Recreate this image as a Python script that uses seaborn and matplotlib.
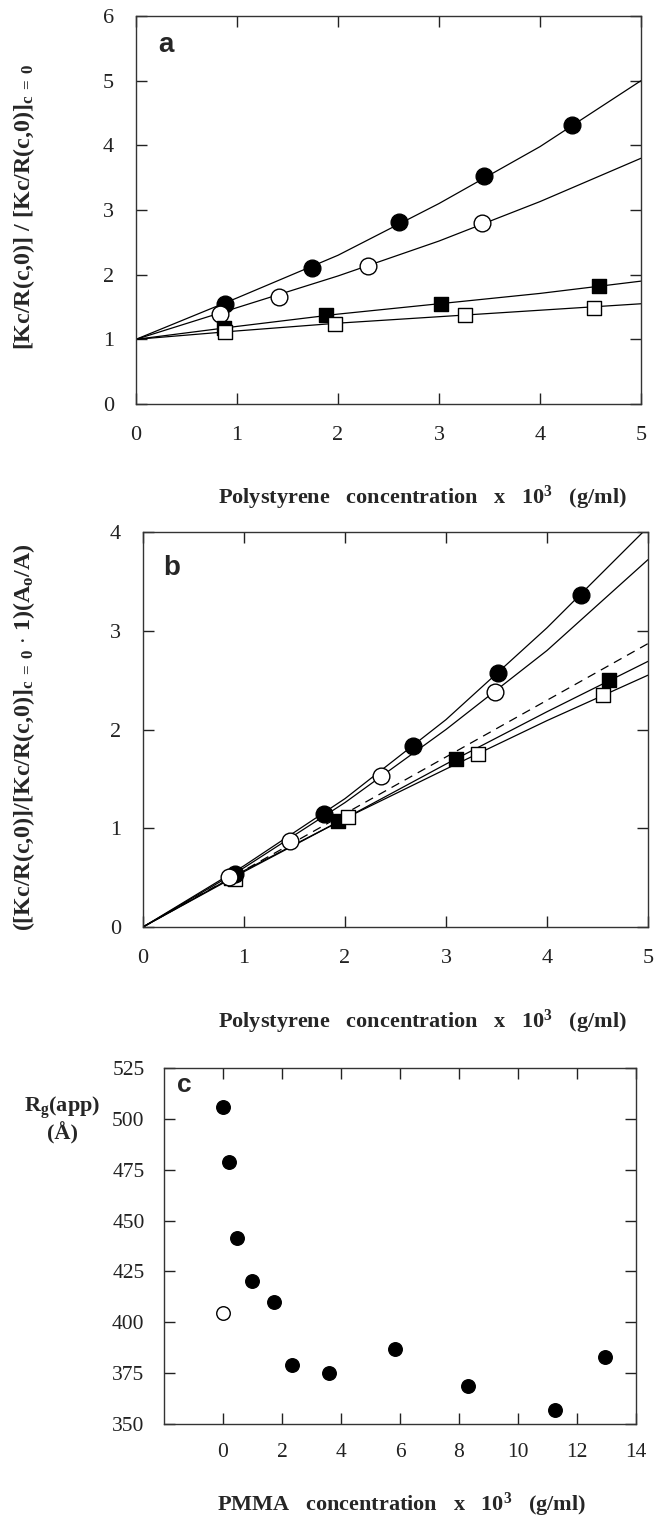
import numpy as np
import pandas as pd
import matplotlib
matplotlib.use("Agg")
import matplotlib.pyplot as plt
import seaborn as sns

# ---------------- Panel a data ----------------
a_fc_x = [0.88, 1.74, 2.60, 3.45, 4.32]
a_fc_y = [1.55, 2.11, 2.81, 3.52, 4.31]
a_oc_x = [0.83, 1.42, 2.30, 3.43]
a_oc_y = [1.39, 1.66, 2.13, 2.80]
a_fs_x = [0.87, 1.88, 3.02, 4.58]
a_fs_y = [1.18, 1.37, 1.55, 1.82]
a_os_x = [0.88, 1.97, 3.26, 4.53]
a_os_y = [1.11, 1.23, 1.37, 1.49]
fit_x = [0, 1, 2, 3, 4, 5]
a_fc_fit = [1.0, 1.64, 2.30, 3.10, 3.98, 5.00]
a_oc_fit = [1.0, 1.49, 1.98, 2.52, 3.13, 3.80]
a_fs_fit = [1.0, 1.20, 1.39, 1.55, 1.71, 1.90]
a_os_fit = [1.0, 1.13, 1.25, 1.35, 1.45, 1.55]

# ---------------- Panel b data ----------------
b_fc_x = [0.91, 1.79, 2.67, 3.51, 4.34]
b_fc_y = [0.54, 1.14, 1.83, 2.57, 3.36]
b_oc_x = [0.85, 1.46, 2.36, 3.49]
b_oc_y = [0.51, 0.87, 1.53, 2.38]
b_fs_x = [0.87, 1.93, 3.10, 4.61]
b_fs_y = [0.50, 1.07, 1.70, 2.50]
b_os_x = [0.91, 2.03, 3.32, 4.55]
b_os_y = [0.49, 1.11, 1.75, 2.35]
b_fc_fit = [0.0, 0.62, 1.30, 2.10, 3.03, 4.05]
b_oc_fit = [0.0, 0.60, 1.26, 2.00, 2.80, 3.72]
b_fs_fit = [0.0, 0.57, 1.10, 1.65, 2.18, 2.69]
b_os_fit = [0.0, 0.56, 1.10, 1.60, 2.09, 2.55]
b_dash_x = [0, 5]
b_dash_y = [0.0, 2.87]

# ---------------- Panel c data ----------------
c_f_x = [0.0, 0.22, 0.46, 0.97, 1.72, 2.33, 3.59, 5.84, 8.32, 11.25, 12.95]
c_f_y = [506, 479, 441.5, 420.5, 410, 379, 375, 387, 368.5, 357, 383]
c_o_x = [0.0]
c_o_y = [404.6]

sns.set_theme(style="ticks")
plt.rcParams["font.family"] = ["Liberation Serif", "DejaVu Serif"]
plt.rcParams["mathtext.fontset"] = "custom"
plt.rcParams["mathtext.rm"] = "Liberation Serif"
plt.rcParams["mathtext.bf"] = "Liberation Serif:bold"
plt.rcParams["mathtext.it"] = "Liberation Serif:italic"

W, H = 654, 1523
fig = plt.figure(figsize=(W / 100, H / 100), dpi=100)
fig.patch.set_facecolor("white")


def add_ax(l, r, t, b):
    return fig.add_axes([l / W, 1 - b / H, (r - l) / W, (b - t) / H])


def style_ax(ax):
    ax.set_facecolor("white")
    for s in ax.spines.values():
        s.set_color("#333333")
        s.set_linewidth(1.0)
        s.set_visible(True)
    ax.tick_params(direction="in", top=True, right=True, length=8, width=1.0,
                   labelsize=16, pad=16, colors="#222222")
    ax.set_xlabel("")
    ax.set_ylabel("")


def fit_line(ax, xs, ys):
    sns.lineplot(x=xs, y=ys, ax=ax, color="black", lw=0.9,
                 estimator=None, sort=False)


def pts(ax, xs, ys, marker, filled, s):
    sns.scatterplot(x=xs, y=ys, ax=ax, marker=marker, s=s,
                    color="black" if filled else "white",
                    edgecolor="black", linewidth=1.0, zorder=5)


# ---------------- Panel a ----------------
ax = add_ax(136, 641, 16, 404)
for f in (a_fc_fit, a_oc_fit, a_fs_fit, a_os_fit):
    fit_line(ax, fit_x, f)
pts(ax, a_fc_x, a_fc_y, "o", True, 145)
pts(ax, a_oc_x, a_oc_y, "o", False, 145)
pts(ax, a_fs_x, a_fs_y, "s", True, 100)
pts(ax, a_os_x, a_os_y, "s", False, 100)
ax.set_xlim(0, 5)
ax.set_ylim(0, 6)
ax.set_xticks(range(0, 6))
ax.set_yticks(range(0, 7))
style_ax(ax)
ax.text(0.06, 0.925, "a", transform=ax.transAxes, fontsize=20, fontweight="bold",
        family="Liberation Sans", ha="center", va="center")

# ---------------- Panel b ----------------
ax = add_ax(143, 648, 532, 927)
for f in (b_fc_fit, b_oc_fit, b_fs_fit, b_os_fit):
    fit_line(ax, fit_x, f)
sns.lineplot(x=b_dash_x, y=b_dash_y, ax=ax, color="black", lw=0.9,
             estimator=None)
ax.lines[-1].set_linestyle((0, (7, 5)))
pts(ax, b_fs_x, b_fs_y, "s", True, 100)
pts(ax, b_os_x, b_os_y, "s", False, 100)
pts(ax, b_fc_x, b_fc_y, "o", True, 145)
pts(ax, b_oc_x, b_oc_y, "o", False, 145)
ax.set_xlim(0, 5)
ax.set_ylim(0, 4)
ax.set_xticks(range(0, 6))
ax.set_yticks(range(0, 5))
style_ax(ax)
ax.text(0.057, 0.91, "b", transform=ax.transAxes, fontsize=20, fontweight="bold",
        family="Liberation Sans", ha="center", va="center")

# ---------------- Panel c ----------------
ax = add_ax(164, 636, 1068, 1424)
pts(ax, c_f_x, c_f_y, "o", True, 95)
pts(ax, c_o_x, c_o_y, "o", False, 95)
ax.set_xlim(-2, 14)
ax.set_ylim(350, 525)
ax.set_xticks(range(0, 15, 2))
ax.set_yticks(range(350, 526, 25))
style_ax(ax)
ax.tick_params(labelsize=15.5, pad=14)
ax.text(0.042, 0.952, "c", transform=ax.transAxes, fontsize=19, fontweight="bold",
        family="Liberation Sans", ha="center", va="center")

# ---------------- Axis labels ----------------
xl = r"Polystyrene   concentration   x   10$^{\mathbf{3}}$   (g/ml)"
fig.text(422 / W, 1 - 498 / H, xl, fontsize=16, fontweight="bold",
         ha="center", va="center")
fig.text(422 / W, 1 - 1022 / H, xl, fontsize=16, fontweight="bold",
         ha="center", va="center")
fig.text(402 / W, 1 - 1505 / H,
         r"PMMA   concentration   x   10$^{\mathbf{3}}$   (g/ml)",
         fontsize=16, fontweight="bold", ha="center", va="center")

fig.text(24 / W, 1 - 207 / H,
         r"[Kc/R(c,0)] / [Kc/R(c,0)]$_{\mathbf{c\ =\ 0}}$",
         fontsize=17.3, fontweight="bold", rotation=90, ha="center", va="center")
fig.text(24 / W, 1 - 737 / H,
         r"([Kc/R(c,0)]/[Kc/R(c,0)]$_{\mathbf{c\ =\ 0}}$ $\mathbf{\cdot}$ 1)(A$_{\mathbf{o}}$/A)",
         fontsize=17.3, fontweight="bold", rotation=90, ha="center", va="center")
fig.text(62 / W, 1 - 1108 / H, r"R$_{\mathbf{g}}$(app)", fontsize=16,
         fontweight="bold", ha="center", va="center")
fig.text(62 / W, 1 - 1133 / H, "(Å)", fontsize=16, fontweight="bold",
         ha="center", va="center")

fig.savefig("out.png", dpi=100, facecolor="white")
